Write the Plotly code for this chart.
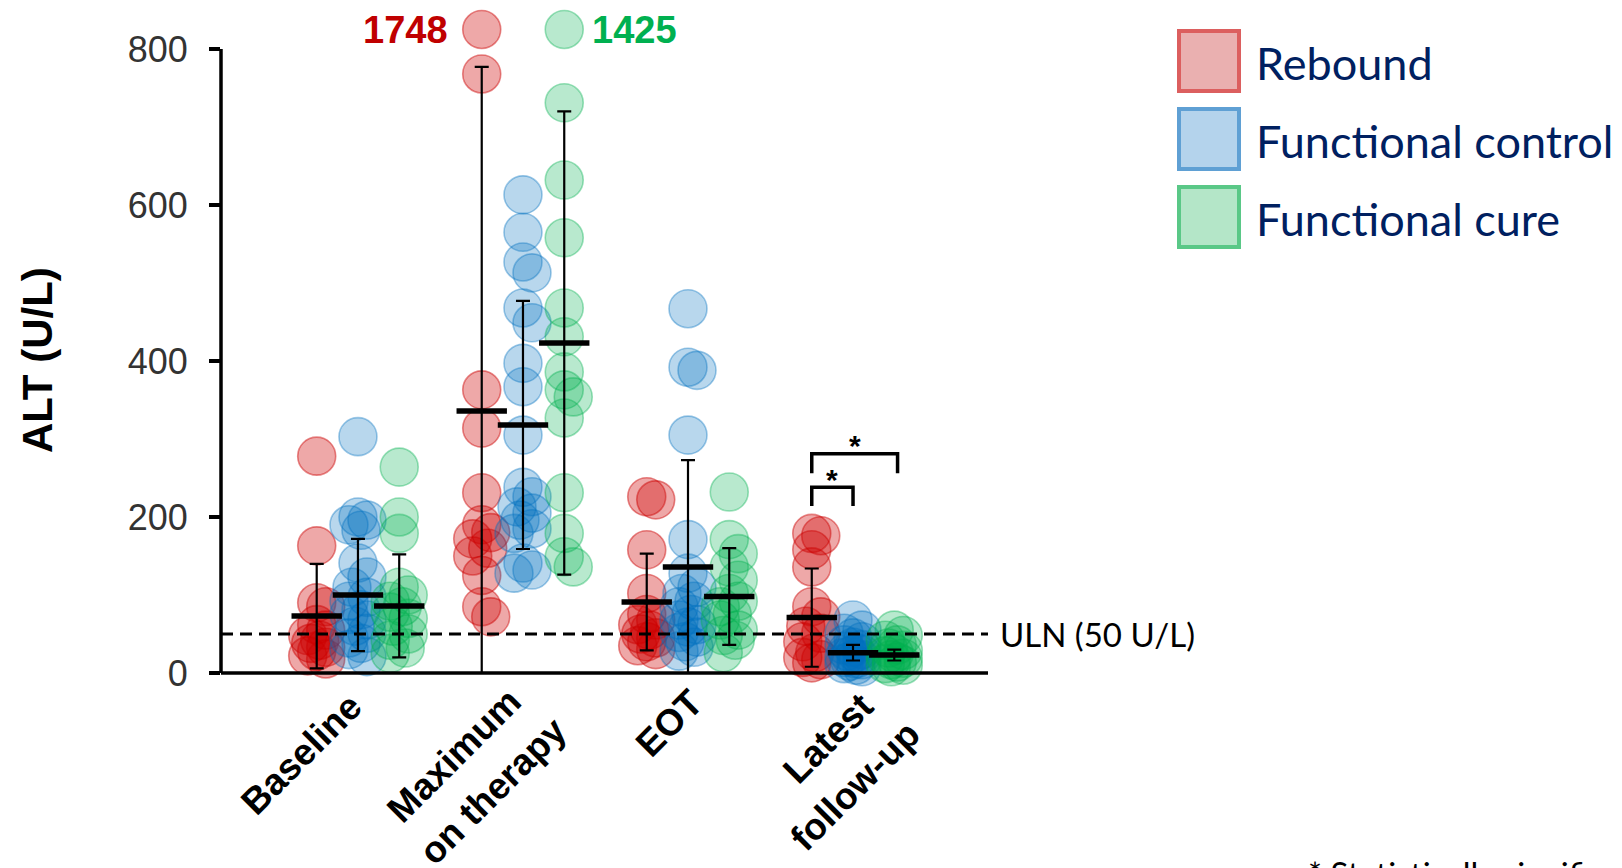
import numpy as np
import plotly.graph_objects as go

# ---------------------------------------------------------------- data
timepoints = ["Baseline", "Maximum<br>on therapy", "EOT", "Latest<br>follow-up"]
groups = ["Rebound", "Functional control", "Functional cure"]

# ALT (U/L) per patient, one list per timepoint
rebound_baseline = [278, 163, 90, 85, 62, 55, 48, 42, 38, 33, 28, 22, 18]
rebound_max = [1748, 768, 363, 314, 231, 190, 180, 172, 160, 150, 125, 85, 72]
rebound_eot = [226, 222, 158, 102, 75, 68, 62, 55, 50, 45, 40, 35, 30]
rebound_latest = [179, 176, 158, 136, 85, 72, 60, 51, 40, 26, 20, 17, 13]

control_baseline = [303, 200, 196, 190, 183, 141, 123, 110, 97, 92, 81, 75, 68, 60, 51, 45, 38, 30, 21]
control_max = [613, 565, 527, 513, 468, 449, 397, 367, 305, 238, 226, 213, 205, 196, 185, 179, 141, 132, 128]
control_eot = [467, 392, 388, 305, 171, 128, 110, 102, 92, 85, 75, 68, 62, 59, 52, 46, 40, 33, 28]
control_latest = [68, 55, 51, 45, 40, 36, 33, 30, 28, 26, 24, 22, 20, 18, 17, 15, 12, 10, 8]

cure_baseline = [264, 200, 179, 110, 100, 92, 85, 78, 70, 60, 50, 42, 32, 25]
cure_max = [1425, 731, 632, 558, 468, 431, 386, 363, 354, 327, 231, 179, 149, 136]
cure_eot = [232, 171, 153, 136, 119, 102, 92, 85, 75, 68, 55, 48, 42, 26]
cure_latest = [55, 48, 42, 36, 32, 29, 25, 22, 19, 17, 14, 12, 10, 8]

# mean and SD per timepoint
rebound_mean = [73, 336, 91, 71]
rebound_sd = [67, 441, 62, 63]
control_mean = [100, 318, 136, 26]
control_sd = [72, 159, 137, 10]
cure_mean = [86, 423, 98, 23]
cure_sd = [66, 297, 62, 7]

uln_value = 50
y_ticks = [0, 200, 400, 600, 800]

# ---------------------------------------------------------------- layout geometry
W, H = 1622, 868
L, R, T, B = 221, 634, 10, 188
PLOT_W = W - L - R
PLOT_H = H - T - B
X_RANGE = [-0.83, 3.818]
ZERO_PX = 673            # pixel row of ALT = 0
PX_PER_UNIT = 0.78       # pixels per U/L
Y_RANGE = [-(T + PLOT_H - ZERO_PX) / PX_PER_UNIT, (ZERO_PX - T) / PX_PER_UNIT]
PX_PER_X = PLOT_W / (X_RANGE[1] - X_RANGE[0])
AXIS_MAX = 800
BREAK_Y = 825            # values above AXIS_MAX are drawn here, with their value written
MARKER = 38

# placement of the slanted category labels: first line's top-right corner
# (px right of the tick, px below the axis); later lines step down-right
LABEL_DX = [14, 9, 25, 31]
LABEL_DY = [10, 5, 6, 10]
LINE_STEP = (46, 28)


def paper_x(px):
    return (px - L) / PLOT_W


def paper_y(py):
    return (T + PLOT_H - py) / PLOT_H


def swarm(values, min_dist=16.0, step=3.0, max_off=9.0):
    """Narrow beeswarm: horizontal offsets (in x units) that spread overlapping points."""
    vals = np.asarray(values, dtype=float)
    order = np.argsort(-vals)
    cands = [0.0]
    k = 1
    while k * step <= max_off:
        cands += [k * step, -k * step]
        k += 1
    placed = []
    offs = np.zeros(len(vals))
    for i in order:
        y = vals[i] * PX_PER_UNIT
        best, best_d = 0.0, -1.0
        for c in cands:
            d = min((np.hypot(c - px, y - py) for px, py in placed), default=1e9)
            if d >= min_dist:
                best = c
                break
            if d > best_d:
                best_d, best = d, c
        placed.append((best, y))
        offs[i] = best
    return offs / PX_PER_X


series = [
    dict(name="Rebound", data=[rebound_baseline, rebound_max, rebound_eot, rebound_latest],
         mean=rebound_mean, sd=rebound_sd, rgb="204,0,0", shift=-0.25,
         label_color="#C00000", label_side="left"),
    dict(name="Functional control", data=[control_baseline, control_max, control_eot, control_latest],
         mean=control_mean, sd=control_sd, rgb="0,112,192", shift=0.0,
         label_color="#0070C0", label_side="left"),
    dict(name="Functional cure", data=[cure_baseline, cure_max, cure_eot, cure_latest],
         mean=cure_mean, sd=cure_sd, rgb="0,176,80", shift=0.25,
         label_color="#00B050", label_side="right"),
]
alphas = {"204,0,0": (0.34, 0.45), "0,112,192": (0.28, 0.38), "0,176,80": (0.28, 0.38)}

fig = go.Figure()
annotations = []

# individual patients
for s in series:
    xs, ys = [], []
    for ti, vals in enumerate(s["data"]):
        shown = [min(v, BREAK_Y) if v > AXIS_MAX else v for v in vals]
        offs = swarm(shown)
        for v, sv, o in zip(vals, shown, offs):
            xs.append(ti + s["shift"] + o)
            ys.append(sv)
            if v > AXIS_MAX:
                left = s["label_side"] == "left"
                annotations.append(dict(
                    x=ti + s["shift"] + o, y=sv, xref="x", yref="y", text=f"<b>{v}</b>",
                    showarrow=False, xanchor="right" if left else "left",
                    xshift=-32 if left else 26,
                    font=dict(family="Arial", size=38, color=s["label_color"])))
    fa, la = alphas[s["rgb"]]
    fig.add_trace(go.Scatter(
        x=xs, y=ys, mode="markers", name=s["name"], showlegend=False, cliponaxis=False,
        marker=dict(size=MARKER, color=f"rgba({s['rgb']},{fa})",
                    line=dict(color=f"rgba({s['rgb']},{la})", width=1.6))))

# mean ± SD
for s in series:
    xs = [ti + s["shift"] for ti in range(len(timepoints))]
    fig.add_trace(go.Scatter(
        x=xs, y=s["mean"], mode="markers", showlegend=False, cliponaxis=False,
        marker=dict(size=1, color="rgba(0,0,0,0)"),
        error_y=dict(type="data", symmetric=False, array=s["sd"],
                     arrayminus=[min(sd, m) for sd, m in zip(s["sd"], s["mean"])],
                     color="black", thickness=2.2, width=7)))
    fig.add_trace(go.Scatter(
        x=xs, y=s["mean"], mode="markers", showlegend=False, cliponaxis=False,
        marker=dict(symbol="line-ew", size=36, line=dict(color="black", width=5.5))))

# slanted category labels under the axis, one annotation per line
for ti, (t, dx, dy) in enumerate(zip(timepoints, LABEL_DX, LABEL_DY)):
    for li, line in enumerate(t.split("<br>")):
        annotations.append(dict(x=ti, y=0, xref="x", yref="y", text=f"<b>{line}</b>",
                                textangle=-45, showarrow=False,
                                xanchor="right", yanchor="top",
                                xshift=dx + li * LINE_STEP[0], yshift=-(dy + li * LINE_STEP[1]),
                                font=dict(family="Arial", size=37, color="black")))

shapes = []
# axes lines
shapes.append(dict(type="line", xref="paper", yref="y", x0=0, x1=1, y0=0, y1=0,
                   line=dict(color="black", width=3.5)))
shapes.append(dict(type="line", xref="paper", yref="y", x0=0, x1=0, y0=0, y1=AXIS_MAX,
                   line=dict(color="black", width=3.5)))
# upper limit of normal
shapes.append(dict(type="line", xref="paper", yref="y", x0=0, x1=1, y0=uln_value, y1=uln_value,
                   line=dict(color="black", width=3, dash="12px,7px")))
annotations.append(dict(x=1, y=uln_value, xref="paper", yref="y", text="ULN (50 U/L)",
                        showarrow=False, xanchor="left", xshift=10,
                        font=dict(family="Lato", size=33, color="black")))

# significance brackets at latest follow-up
def bracket(x0, x1, top, leg, star_y):
    shapes.append(dict(type="path", xref="x", yref="y",
                       path=f"M {x0},{top - leg} L {x0},{top} L {x1},{top} L {x1},{top - leg}",
                       line=dict(color="black", width=3.5)))
    annotations.append(dict(x=(x0 + x1) / 2, y=star_y, xref="x", yref="y", text="<b>*</b>",
                            showarrow=False, yanchor="middle",
                            font=dict(family="Arial", size=30, color="black")))


bracket(3 - 0.25, 3.0, 238, 24, 248)
bracket(3 - 0.25, 3.27, 281, 25, 292)

# y-axis title
annotations.append(dict(x=paper_x(38), y=paper_y(360), xref="paper", yref="paper",
                        text="<b>ALT (U/L)</b>", textangle=-90, showarrow=False,
                        xanchor="center", yanchor="middle",
                        font=dict(family="Arial", size=42, color="black")))

# legend drawn as swatches + labels
leg_colors = [("rgba(234,176,176,1)", "rgba(220,95,95,1)"),
              ("rgba(180,211,236,1)", "rgba(95,160,212,1)"),
              ("rgba(180,230,200,1)", "rgba(90,200,135,1)")]
for i, (g, (fill, edge)) in enumerate(zip(groups, leg_colors)):
    top = 31 + i * 78
    shapes.append(dict(type="rect", xref="paper", yref="paper",
                       x0=paper_x(1179), x1=paper_x(1239), y0=paper_y(top), y1=paper_y(top + 60),
                       fillcolor=fill, line=dict(color=edge, width=4)))
    annotations.append(dict(x=paper_x(1254), y=paper_y(top + 32), xref="paper", yref="paper",
                            text=g, showarrow=False, xanchor="left", yanchor="middle",
                            font=dict(family="Lato", size=45, color="#002060")))

# footnote sits at the bottom edge of the page
annotations.append(dict(x=paper_x(1306), y=paper_y(851), xref="paper", yref="paper",
                        text="* Statistically significant", showarrow=False,
                        xanchor="left", yanchor="top",
                        font=dict(family="Lato", size=33, color="black")))

fig.update_layout(
    width=W, height=H, margin=dict(l=L, r=R, t=T, b=B, autoexpand=False),
    paper_bgcolor="white", plot_bgcolor="white",
    showlegend=False, shapes=shapes, annotations=annotations,
    xaxis=dict(range=X_RANGE, showticklabels=False, automargin=False,
               showgrid=False, zeroline=False, showline=False, ticks=""),
    yaxis=dict(range=Y_RANGE, tickmode="array", tickvals=y_ticks, automargin=False,
               tickfont=dict(family="Arial", size=36, color="#333333"),
               ticks="outside", ticklen=11, tickwidth=3.5, tickcolor="black",
               ticklabelstandoff=14,
               showgrid=False, zeroline=False, showline=False),
)

fig.write_html("out.html")
